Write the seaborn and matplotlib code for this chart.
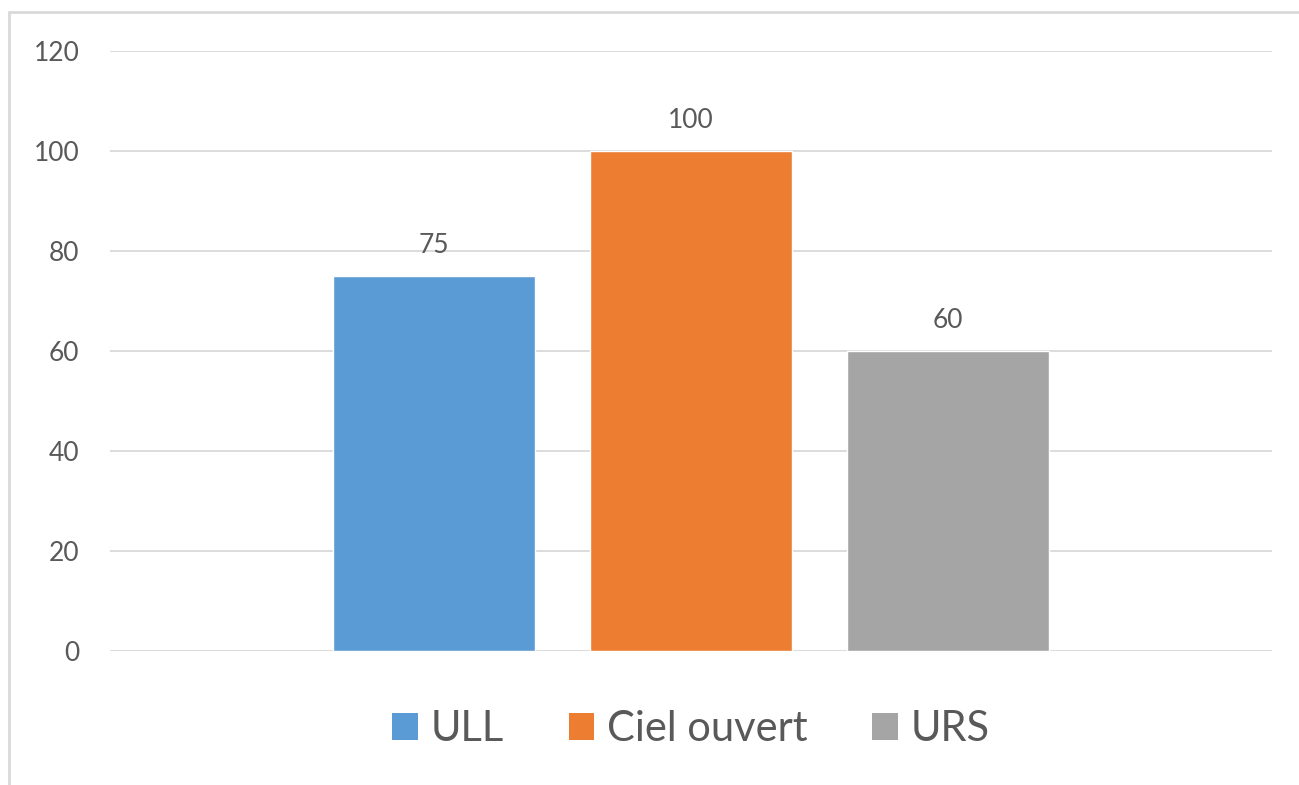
import matplotlib
matplotlib.use("Agg")
import matplotlib.pyplot as plt
from matplotlib.lines import Line2D
from matplotlib.patches import Patch
import seaborn as sns
import pandas as pd

# Data
categories = ["ULL", "Ciel ouvert", "URS"]
values = [75, 100, 60]
colors = ["#5B9BD5", "#ED7D31", "#A5A5A5"]
y_ticks = [0, 20, 40, 60, 80, 100, 120]

df = pd.DataFrame({"groupe": [""] * len(categories),
                   "serie": categories,
                   "valeur": values})

sns.set_theme(style="white")
plt.rcParams["font.family"] = ["Lato", "DejaVu Sans"]

text_color = "#595959"
grid_color = "#D9D9D9"

fig = plt.figure(figsize=(12.99, 7.85), dpi=100)
ax = fig.add_axes([0.0847, 0.1707, 0.979 - 0.0847, 0.935 - 0.1707])

sns.barplot(data=df, x="groupe", y="valeur", hue="serie",
            hue_order=categories, palette=colors, width=0.664, gap=0.214,
            saturation=1, ax=ax, legend=False)

ax.set_xlim(-0.5, 0.5)
ax.set_ylim(0, 120)
ax.set_yticks(y_ticks)
ax.set_yticklabels([str(t) for t in y_ticks])
ax.set_xticks([])
ax.set_xlabel("")
ax.set_ylabel("")
ax.tick_params(axis="y", length=0, pad=22, labelsize=19, labelcolor=text_color)

ax.yaxis.grid(True, color=grid_color, linewidth=1.3)
ax.set_axisbelow(True)
for s in ax.spines.values():
    s.set_visible(False)

for cont in ax.containers:
    ax.bar_label(cont, padding=13, fontsize=19, color=text_color)

handles = [Patch(facecolor=c, edgecolor="none") for c in colors]
ax.legend(handles, categories, loc="center", bbox_to_anchor=(0.5, -0.13),
          ncol=3, frameon=False, fontsize=30, labelcolor=text_color,
          handlelength=0.62, handleheight=0.62, handletextpad=0.3,
          columnspacing=1.55)

# Chart area frame (top and left edges)
fig.add_artist(Line2D([0.007, 1.0], [1 - 12 / 785, 1 - 12 / 785],
                      transform=fig.transFigure, color="#D9D9D9", linewidth=2))
fig.add_artist(Line2D([9 / 1299, 9 / 1299], [0.0, 1 - 12 / 785],
                      transform=fig.transFigure, color="#D9D9D9", linewidth=2))

fig.savefig("out.png", dpi=100, facecolor="white")
